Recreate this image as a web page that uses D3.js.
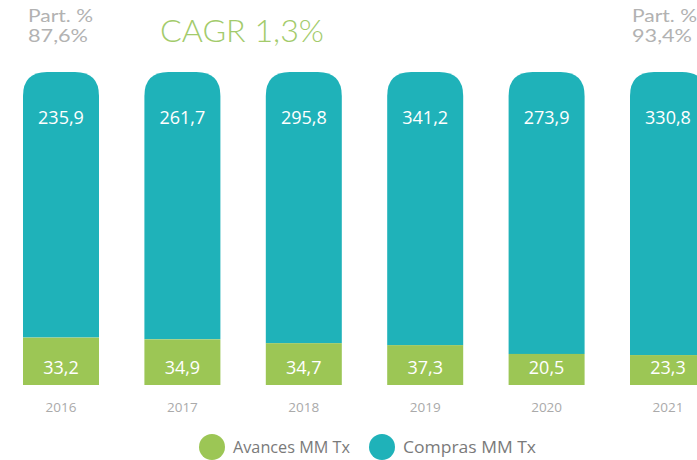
<!DOCTYPE html>
<html><head><meta charset="utf-8">
<script src="https://cdn.jsdelivr.net/npm/d3@7"></script>
<style>
html,body{margin:0;padding:0;background:#fff;}
svg{display:block;font-family:"Open Sans",Lato,sans-serif;}
</style></head>
<body><svg id="c" width="697" height="460"></svg>
<script>
const years = ["2016","2017","2018","2019","2020","2021"];
const avances = [33.2, 34.9, 34.7, 37.3, 20.5, 23.3];
const compras = [235.9, 261.7, 295.8, 341.2, 273.9, 330.8];
const seriesNames = ["Avances MM Tx", "Compras MM Tx"];
const titleText = "CAGR 1,3%";
const partLabel = "Part. %";
const partValues = ["87,6%", "93,4%"];

const colTeal = "#1fb2b9", colGreen = "#9cc655";
const svg = d3.select("#c");
const loc = d3.formatLocale({decimal: ",", thousands: ".", grouping: [3], currency: ["", ""]});
const fmt = loc.format(".1f");

const barTop = 72, barBottom = 385, minSeg = 10;
const x = d3.scaleBand().domain(years).range([23, 706]).paddingInner(0.374).paddingOuter(0);
const y = d3.scaleLinear().domain([0, 100]).range([barBottom - minSeg, barTop]);
const bw = x.bandwidth();
const r = 24;

const data = years.map((yr, i) => {
  const tot = avances[i] + compras[i];
  return {yr, a: avances[i], c: compras[i], pa: avances[i] / tot * 100};
});

const g = svg.append("g");
g.selectAll("path.teal").data(data).join("path").attr("class", "teal")
  .attr("fill", colTeal)
  .attr("d", d => {
    const x0 = x(d.yr), x1 = x0 + bw, yt = y(100), yb = y(d.pa);
    return `M${x0},${yb}V${yt + r}Q${x0},${yt} ${x0 + r},${yt}H${x1 - r}Q${x1},${yt} ${x1},${yt + r}V${yb}Z`;
  });
g.selectAll("rect.green").data(data).join("rect").attr("class", "green")
  .attr("fill", colGreen)
  .attr("x", d => x(d.yr)).attr("width", bw)
  .attr("y", d => y(d.pa)).attr("height", d => barBottom - y(d.pa));

g.selectAll("text.cv").data(data).join("text").attr("class", "cv")
  .attr("x", d => x(d.yr) + bw / 2).attr("y", 117)
  .attr("text-anchor", "middle").attr("dominant-baseline", "central")
  .attr("fill", "#fff").attr("font-size", 18)
  .text(d => fmt(d.c));
g.selectAll("text.av").data(data).join("text").attr("class", "av")
  .attr("x", d => x(d.yr) + bw / 2).attr("y", 367)
  .attr("text-anchor", "middle").attr("dominant-baseline", "central")
  .attr("fill", "#fff").attr("font-size", 18)
  .text(d => fmt(d.a));

const ax = svg.append("g").attr("transform", `translate(0,${barBottom})`)
  .call(d3.axisBottom(x).tickSize(0).tickPadding(22));
ax.select(".domain").remove();
ax.selectAll("text").attr("fill", "#aaa").attr("font-size", 13.5)
  .attr("font-family", "'Open Sans',sans-serif").attr("dy", "0.35em");

svg.append("text").attr("x", 160).attr("y", 42).attr("fill", "#a3cb6b")
  .attr("font-size", 32).attr("font-family", "Lato,'Open Sans',sans-serif").attr("font-weight", 300)
  .attr("textLength", 164).attr("lengthAdjust", "spacingAndGlyphs")
  .text(titleText);

const partX = [x(years[0]) + 5, x(years[5]) + 2];
partValues.forEach((v, i) => {
  svg.append("text").attr("x", partX[i]).attr("y", 22).attr("fill", "#b2b2b2")
    .attr("font-size", 16.5).attr("font-family", "Lato,'Open Sans',sans-serif")
    .attr("textLength", 65).attr("lengthAdjust", "spacingAndGlyphs")
    .text(partLabel);
  svg.append("text").attr("x", partX[i]).attr("y", 42).attr("fill", "#b2b2b2")
    .attr("font-size", 16.5).attr("font-family", "Lato,'Open Sans',sans-serif")
    .attr("textLength", 60).attr("lengthAdjust", "spacingAndGlyphs")
    .text(v);
});

const legX = [212, 382];
const legCol = [colGreen, colTeal];
seriesNames.forEach((n, i) => {
  svg.append("circle").attr("cx", legX[i]).attr("cy", 447).attr("r", 13).attr("fill", legCol[i]);
  svg.append("text").attr("x", legX[i] + 21).attr("y", 447).attr("dominant-baseline", "central")
    .attr("fill", "#7a7a7a").attr("font-size", 16).attr("font-family", "'Open Sans',sans-serif")
    .attr("textLength", i === 0 ? 117 : 133).attr("lengthAdjust", "spacingAndGlyphs")
    .text(n);
});
</script></body></html>
